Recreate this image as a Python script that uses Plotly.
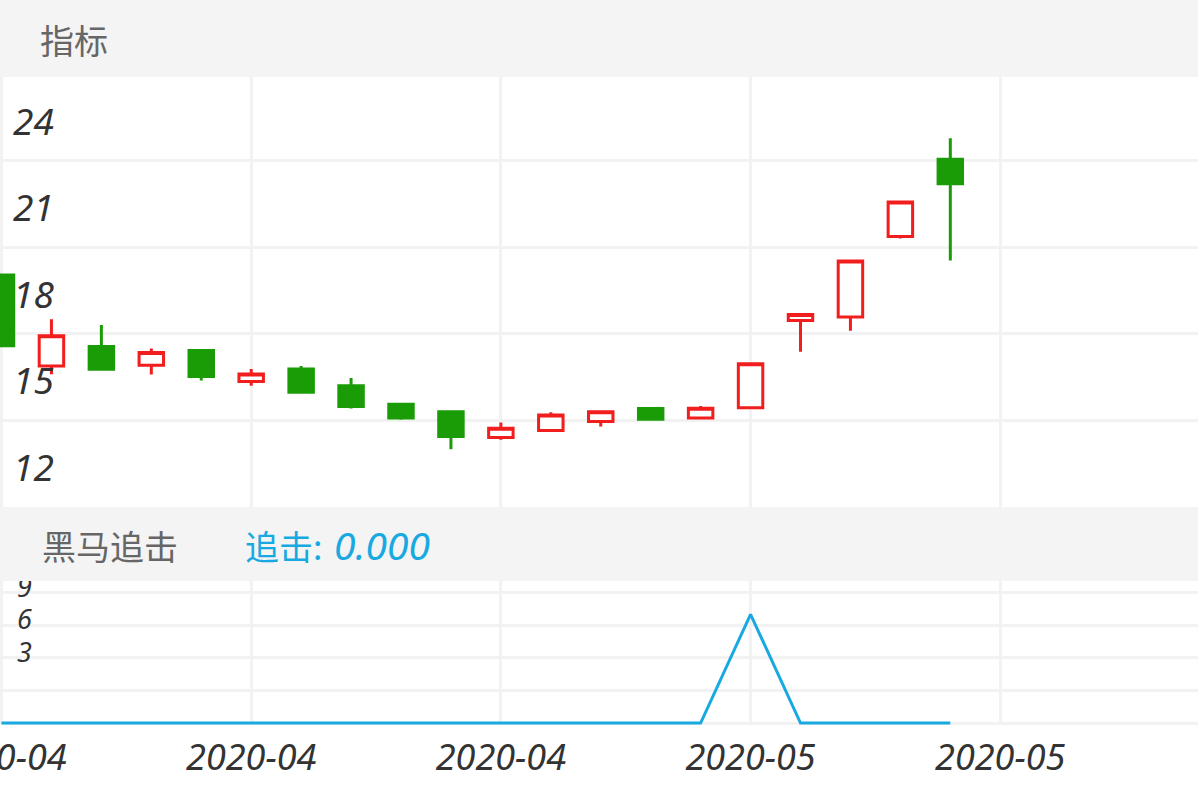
import plotly.graph_objects as go

# ---------------- data ----------------
x_index = list(range(20))
opens  = [20.04, 16.89, 17.56, 16.91, 17.42, 16.35, 16.78, 16.20, 15.56, 15.30,
          14.41, 14.65, 14.96, 15.41, 15.08, 15.44, 18.46, 18.58, 21.37, 24.05]
closes = [17.59, 17.93, 16.77, 17.35, 16.52, 16.61, 15.98, 15.48, 15.08, 14.44,
          14.73, 15.19, 15.30, 15.04, 15.42, 16.96, 18.67, 20.52, 22.57, 23.20]
highs  = [20.04, 18.51, 18.31, 17.49, 17.42, 16.78, 16.89, 16.47, 15.56, 15.30,
          14.93, 15.28, 15.30, 15.41, 15.50, 16.96, 18.67, 20.52, 22.57, 24.78]
lows   = [17.59, 16.60, 16.77, 16.59, 16.38, 16.20, 15.98, 15.41, 15.02, 14.00,
          14.33, 14.65, 14.79, 15.04, 15.08, 15.40, 17.38, 18.11, 21.30, 20.54]
chase  = [0, 0, 0, 0, 0, 0, 0, 0, 0, 0,
          0, 0, 0, 0, 0, 10, 0, 0, 0, 0]

x_tickvals = [0, 5, 10, 15, 20]
x_ticktext = ["2020-04", "2020-04", "2020-04", "2020-05", "2020-05"]
main_tickvals = [12, 15, 18, 21, 24]
main_ticktext = ["12", "15", "18", "21", "24"]
sub_tickvals = [0, 3, 6, 9, 12]
sub_ticktext = ["", "3", "6", "9", ""]

panel_title = "指标"
sub_title = "黑马追击"
sub_value_label = "追击:"
sub_value = "0.000"

# ---------------- styling ----------------
W, H = 1198, 797
RED = "#f21d1d"
GREEN = "#199c05"
BLUE = "#19a9e1"
GRID = "#f2f2f3"
HEADER = "#f4f4f4"
Y_TICK_FONT = dict(family="Noto Sans", size=37, color="#333333", style="italic")
SUB_Y_TICK_FONT = dict(family="Noto Sans", size=27, color="#333333", style="italic")
X_TICK_FONT = dict(family="Noto Sans", size=36, color="#333333", style="italic")


def py(px):
    return 1 - px / H


fig = go.Figure()

fig.add_trace(go.Candlestick(
    x=x_index, open=opens, high=highs, low=lows, close=closes,
    increasing=dict(line=dict(color=RED, width=3), fillcolor="#ffffff"),
    decreasing=dict(line=dict(color=GREEN, width=3), fillcolor=GREEN),
    showlegend=False, hoverinfo="skip", xaxis="x", yaxis="y",
))

fig.add_trace(go.Scatter(
    x=x_index, y=chase, mode="lines", name="追击",
    line=dict(color=BLUE, width=3),
    showlegend=False, hoverinfo="skip", xaxis="x2", yaxis="y2",
))

xr = [-0.03, 23.96]
fig.update_layout(
    width=W, height=H,
    margin=dict(l=0, r=0, t=0, b=0, autoexpand=False),
    paper_bgcolor="#ffffff", plot_bgcolor="#ffffff",
    hovermode=False, showlegend=False,
    xaxis=dict(domain=[0, 1], anchor="y", range=xr, tickvals=x_tickvals,
               showticklabels=False, showgrid=True, gridcolor=GRID, gridwidth=3,
               zeroline=False, showline=False, ticks="", automargin=False,
               rangeslider=dict(visible=False), fixedrange=True),
    yaxis=dict(domain=[py(507), py(77)], anchor="x", range=[12.0, 26.9],
               tickvals=main_tickvals, ticktext=main_ticktext,
               ticklabelposition="inside", ticklabelshift=-39, ticklabelstandoff=10,
               ticklabeloverflow="allow", automargin=False,
               showgrid=True, gridcolor=GRID, gridwidth=3, zeroline=False,
               showline=False, ticks="", tickfont=Y_TICK_FONT, fixedrange=True),
    xaxis2=dict(domain=[0, 1], anchor="y2", range=xr, matches="x",
                tickvals=x_tickvals, ticktext=x_ticktext, tickfont=X_TICK_FONT,
                ticklabeloverflow="allow",
                showgrid=True, gridcolor=GRID, gridwidth=3, zeroline=False,
                showline=False, ticks="", ticklabelstandoff=8, automargin=False,
                fixedrange=True),
    yaxis2=dict(domain=[py(725), py(581)], anchor="x2", range=[-0.18, 13.06],
                tickvals=sub_tickvals, ticktext=sub_ticktext,
                ticklabelposition="inside", ticklabelshift=-38, ticklabelstandoff=14,
                ticklabeloverflow="allow", automargin=False,
                showgrid=True, gridcolor=GRID, gridwidth=3, zeroline=False,
                showline=False, ticks="", tickfont=SUB_Y_TICK_FONT, fixedrange=True),
)

# header bands
fig.add_shape(type="rect", xref="paper", yref="paper", x0=0, x1=1,
              y0=py(77), y1=1, fillcolor=HEADER, line=dict(width=0), layer="above")
fig.add_shape(type="rect", xref="paper", yref="paper", x0=0, x1=1,
              y0=py(581), y1=py(507), fillcolor=HEADER, line=dict(width=0), layer="above")

CJK = "Noto Sans CJK SC"
fig.add_annotation(xref="paper", yref="paper", x=38 / W, y=py(40), text=panel_title,
                   showarrow=False, xanchor="left", yanchor="middle",
                   font=dict(family=CJK, size=34, color="#666666"))
fig.add_annotation(xref="paper", yref="paper", x=40 / W, y=py(545), text=sub_title,
                   showarrow=False, xanchor="left", yanchor="middle",
                   font=dict(family=CJK, size=34, color="#666666"))
fig.add_annotation(xref="paper", yref="paper", x=243 / W, y=py(545), text=sub_value_label,
                   showarrow=False, xanchor="left", yanchor="middle",
                   font=dict(family=CJK, size=34, color=BLUE))
fig.add_annotation(xref="paper", yref="paper", x=332 / W, y=py(544), text=sub_value,
                   showarrow=False, xanchor="left", yanchor="middle",
                   font=dict(family="Noto Sans", size=39, color=BLUE, style="italic"))

fig.write_html("out.html", config={"displayModeBar": False},
               post_script="document.body.style.margin='0';")
